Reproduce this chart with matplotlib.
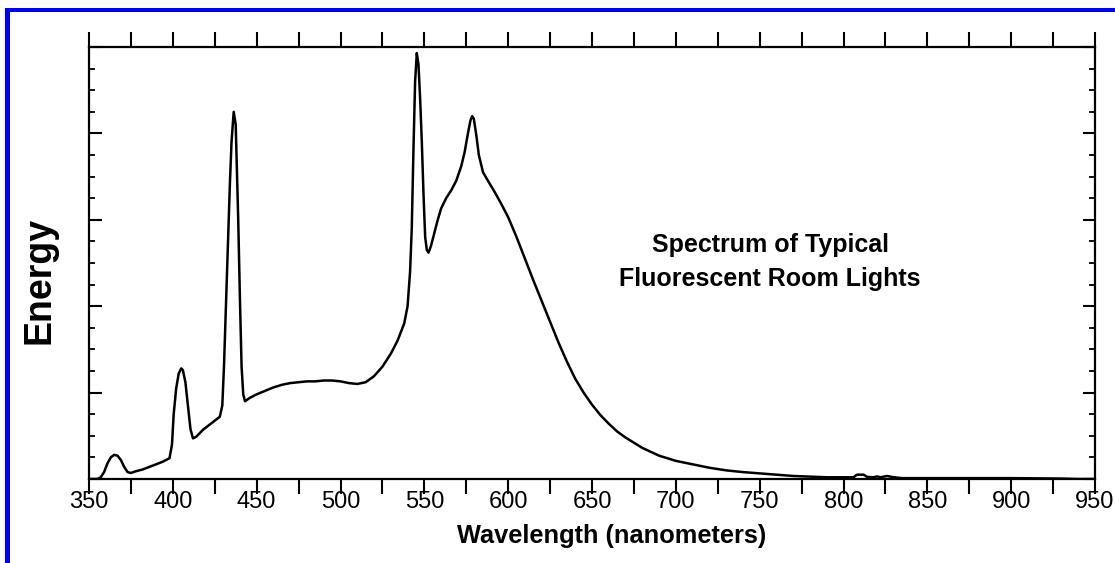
import matplotlib
matplotlib.use("Agg")
import matplotlib.pyplot as plt
from matplotlib.ticker import MultipleLocator, NullFormatter
from matplotlib.patches import Rectangle

plt.rcParams['font.family'] = ['Liberation Sans', 'DejaVu Sans']

# Wavelength (nm) and relative energy
wavelength = [350, 355, 357, 359, 361, 363, 365, 367, 369, 371, 373, 375, 378, 382, 386,
              390, 394, 398, 399.5, 400.5, 402, 403.5, 405, 406, 407.5, 409, 410.5, 412,
              414, 418, 422, 426, 428, 429.5, 430.5, 432, 433, 434, 435, 436.3, 437.5,
              439, 440, 441, 442, 443, 446, 450, 455, 460, 465, 470, 475, 480, 485, 490,
              495, 500, 505, 510, 515, 520, 525, 530, 534, 538, 540, 541.5, 542.5, 543.5,
              544.5, 545.5, 546.5, 547.5, 548.5, 549.5, 550.5, 551.5, 552.5, 554, 556,
              558, 560, 563, 566, 569, 572, 574, 576, 577.5, 578.5, 579.5, 581, 582.5,
              585, 588, 592, 596, 600, 605, 610, 615, 620, 625, 630, 635, 640, 645, 650,
              655, 660, 665, 670, 680, 690, 700, 710, 720, 730, 740, 750, 760, 770, 780,
              790, 800, 806, 808, 812, 814, 818, 820, 822, 826, 830, 835, 850, 900, 930,
              940, 950]
energy = [0.0, 0.0, 0.02, 0.08, 0.18, 0.25, 0.28, 0.27, 0.22, 0.14, 0.08, 0.07, 0.09, 0.11,
          0.14, 0.17, 0.20, 0.24, 0.40, 0.75, 1.05, 1.22, 1.28, 1.26, 1.12, 0.85, 0.58, 0.47,
          0.49, 0.57, 0.63, 0.69, 0.72, 0.85, 1.30, 2.20, 2.80, 3.40, 3.90, 4.25, 4.10,
          3.00, 2.10, 1.30, 0.98, 0.90, 0.94, 0.98, 1.02, 1.06, 1.09, 1.11, 1.12, 1.13,
          1.13, 1.14, 1.14, 1.13, 1.11, 1.10, 1.12, 1.19, 1.30, 1.45, 1.60, 1.80, 2.00,
          2.40, 2.90, 3.80, 4.60, 4.93, 4.80, 4.40, 3.90, 3.30, 2.80, 2.65, 2.62, 2.70,
          2.85, 3.00, 3.13, 3.25, 3.34, 3.45, 3.62, 3.78, 4.00, 4.15, 4.20, 4.17, 3.98,
          3.75, 3.55, 3.45, 3.32, 3.18, 3.03, 2.80, 2.55, 2.30, 2.06, 1.82, 1.58, 1.36,
          1.16, 1.00, 0.86, 0.74, 0.64, 0.55, 0.48, 0.36, 0.27, 0.21, 0.17, 0.13, 0.10,
          0.08, 0.065, 0.05, 0.035, 0.027, 0.02, 0.02, 0.02, 0.05, 0.05, 0.025, 0.02,
          0.03, 0.02, 0.035, 0.02, 0.01, 0.01, 0.01, 0.005, 0.0, 0.0]

x_ticks = [350, 400, 450, 500, 550, 600, 650, 700, 750, 800, 850, 900, 950]
x_label = "Wavelength (nanometers)"
y_label = "Energy"
note = "Spectrum of Typical\nFluorescent Room Lights"

W, H = 1115, 563
fig = plt.figure(figsize=(W / 100, H / 100), dpi=100)
ax = fig.add_axes([89 / W, 1 - 479 / H, (1095 - 89) / W, (479 - 47) / H])

ax.plot(wavelength, energy, color='black', lw=1.8, solid_joinstyle='round')

ax.set_xlim(350, 950)
ax.set_ylim(0, 5)
ax.set_xticks(x_ticks)
ax.set_xticklabels([str(t) for t in x_ticks])
ax.xaxis.set_minor_locator(MultipleLocator(25))
ax.yaxis.set_major_locator(MultipleLocator(1))
ax.yaxis.set_minor_locator(MultipleLocator(0.25))
ax.yaxis.set_major_formatter(NullFormatter())

for s in ax.spines.values():
    s.set_linewidth(1.6)

ax.tick_params(axis='x', which='both', direction='out', top=True, bottom=True,
               length=10.5, width=1.5, labelsize=17, pad=-1.5, labeltop=False)
ax.tick_params(axis='y', which='major', direction='in', left=True, right=True,
               length=9, width=1.5)
ax.tick_params(axis='y', which='minor', direction='in', left=True, right=True,
               length=4.5, width=1.3)

ax.set_xlabel(x_label, fontsize=18.3, fontweight='bold', va='top')
ax.xaxis.set_label_coords((612 - 89) / 1006, (479 - 524) / 432)

fig.text(40 / W, 1 - 280 / H, y_label, rotation=90, fontsize=27, fontweight='bold',
         ha='center', va='center')

ax.text((770 - 89) / 1006, (479 - 262) / 432, note, transform=ax.transAxes,
        fontsize=18, fontweight='bold', ha='center', va='center', linespacing=1.5)

# blue frame on the top and left edges
blue = (0, 0, 1)
fig.add_artist(Rectangle((5 / W, 1 - 12 / H), 1 - 5 / W, 4 / H, transform=fig.transFigure,
                         facecolor=blue, edgecolor='none'))
fig.add_artist(Rectangle((5 / W, 0), 5 / W, 1 - 8 / H, transform=fig.transFigure,
                         facecolor=blue, edgecolor='none'))

fig.savefig("out.png", dpi=100)
